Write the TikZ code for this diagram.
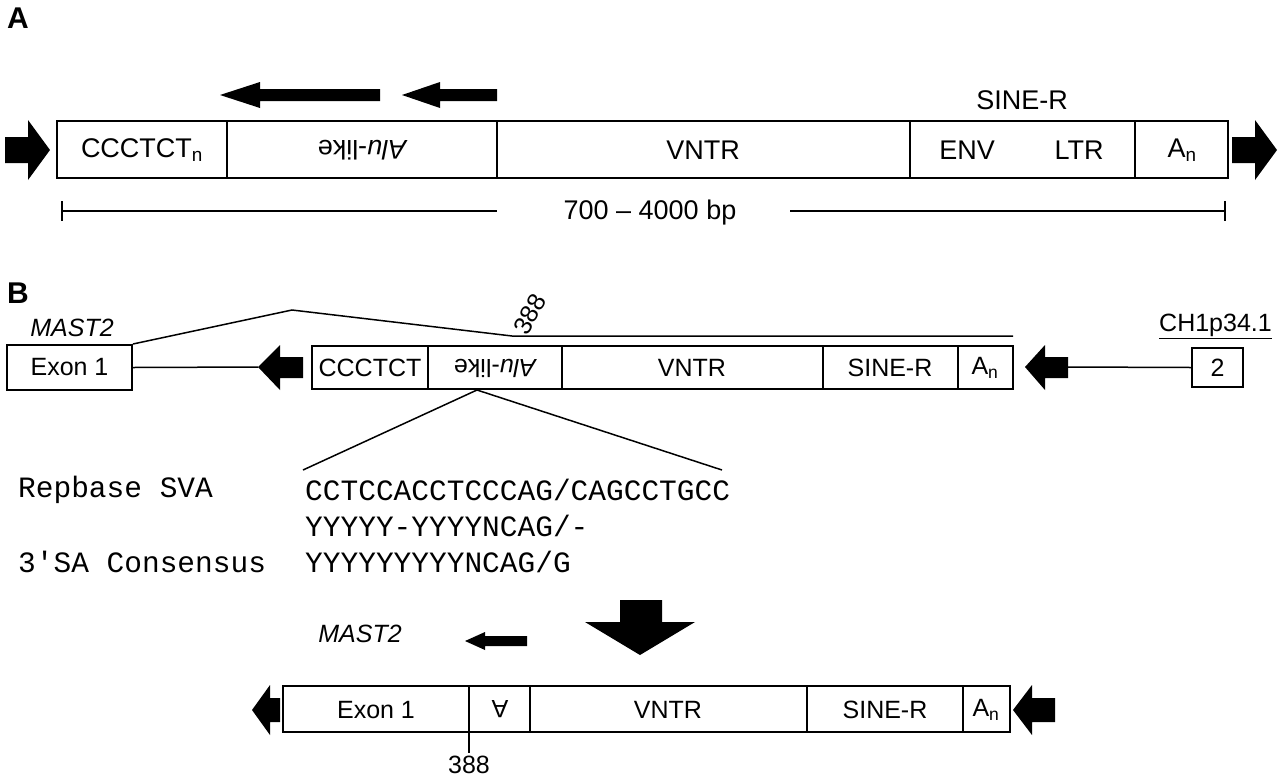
\documentclass[tikz,border=0pt]{standalone}
\usepackage{fontspec}
\setmainfont{Liberation Sans}
\newfontfamily\monof{Liberation Mono}
\begin{document}
\begin{tikzpicture}[x=1pt,y=-1pt,
  seg/.style={draw,line width=2pt,inner sep=0pt},
  lab/.style={font=\fontsize{27}{29}\selectfont},
  labb/.style={font=\fontsize{25}{27}\selectfont},
  mono/.style={font=\monof\fontsize{29.5}{31}\selectfont,anchor=west,inner sep=0pt},
  blk/.style={fill=black,draw=none}]
\useasboundingbox (0,0) rectangle (1280,777);
\node[font=\bfseries\fontsize{30}{32}\selectfont] (lA) at (18,18) {A};
\node[font=\bfseries\fontsize{30}{32}\selectfont] (lB) at (18,293) {B};
% ---- A
\draw[line width=2pt] (57,121) rectangle (1228,178);
\foreach \x in {227,497,910,1135} \draw[line width=1.5pt] (\x,121)--(\x,178);
\node[lab] (a1) at (142,150) {CCCTCT\textsubscript{n}};
\node[lab,rotate=180] (a2) at (362,150) {\textit{Alu}-like};
\node[lab] (a3) at (703,150) {VNTR};
\node[lab] (a4) at (967,150) {ENV};
\node[lab] (a5) at (1079,150) {LTR};
\node[lab] (a6) at (1182,150) {A\textsubscript{n}};
\node[lab] (a7) at (1022,100) {SINE-R};
\fill[blk] (5,137)--(28,137)--(28,120)--(50,150)--(28,180)--(28,163)--(5,163)--cycle;
\fill[blk] (1232,137)--(1255,137)--(1255,120)--(1277,150)--(1255,180)--(1255,163)--(1232,163)--cycle;
\fill[blk] (380,89)--(260,89)--(260,82)--(220,95)--(260,108)--(260,101)--(380,101)--cycle;
\fill[blk] (497,89)--(440,89)--(440,82)--(402,95)--(440,108)--(440,101)--(497,101)--cycle;
\node[lab] (sc) at (650,213) {700 -- 4000 bp};
\coordinate (s1) at (62,211); \coordinate (s2) at (1225,211);
\draw[line width=1.5pt] (s1)--(497,211) (790,211)--(s2);
\draw[line width=1.5pt] (62,201)--(62,221) (1225,201)--(1225,221);
% ---- B top
\node[seg,labb,minimum width=125pt,minimum height=45pt] (ex1) at (69.5,367.5) {Exon 1};
\node[font=\itshape\fontsize{25}{27}\selectfont] (m1) at (72,328) {MAST2};
\fill[blk] (303,357)--(280,357)--(280,345)--(258,367)--(280,390)--(280,378)--(303,378)--cycle;
\draw[line width=1.5pt] (ex1.east)--(258,367);
\draw[line width=2pt] (312,346) rectangle (1013,389);
\foreach \x in {428,562,823,958} \draw[line width=1.5pt] (\x,346)--(\x,389);
\node[labb] (b1) at (370,368) {CCCTCT};
\node[labb,rotate=180] (b2) at (495,368) {\textit{Alu}-like};
\node[labb] (b3) at (692,368) {VNTR};
\node[labb] (b4) at (890,368) {SINE-R};
\node[labb] (b5) at (985,368) {A\textsubscript{n}};
\fill[blk] (1068,357)--(1045,357)--(1045,345)--(1025,367)--(1045,390)--(1045,378)--(1068,378)--cycle;
\node[seg,labb,minimum width=51pt,minimum height=39pt] (ex2) at (1217.5,367.5) {2};
\draw[line width=1.5pt] (1068,367)--(ex2.west);
\node[labb,anchor=east,inner sep=0pt] (ch) at (1272,326) {\underline{CH1p34.1}};
\draw[line width=1.5pt] (133,344)--(292,310)--(512,336)--(1013,336);
\node[labb,rotate=60,inner sep=0pt] (n388) at (530,314) {388};
\coordinate (al) at (477,390);
\draw[line width=1.5pt] (303,470)--(al)--(722,470);
\node[mono] (t1) at (18,490) {Repbase SVA};
\node[mono] (t2) at (305,490) {CCTCCACCTCCCAG/CAGCCTGCC};
\node[mono] (t3) at (305,526) {YYYYY-YYYYNCAG/-};
\node[mono] (t4) at (18,562) {3'SA Consensus};
\node[mono] (t5) at (305,562) {YYYYYYYYYNCAG/G};
\fill[blk] (620,600)--(662,600)--(662,622)--(695,622)--(640,655)--(585,622)--(620,622)--cycle;
% ---- B bottom
\node[font=\itshape\fontsize{25}{27}\selectfont] (m2) at (360,634) {MAST2};
\fill[blk] (527,636)--(485,636)--(485,632)--(465,641)--(485,650)--(485,646)--(527,646)--cycle;
\draw[line width=2pt] (283,686) rectangle (1010,732);
\foreach \x in {469,530,807,963} \draw[line width=1.5pt] (\x,686)--(\x,732);
\node[labb] (c1) at (376,710) {Exon 1};
\node[labb,rotate=180] (c2) at (500,709) {A};
\node[labb] (c3) at (668,710) {VNTR};
\node[labb] (c4) at (885,710) {SINE-R};
\node[labb] (c5) at (986,710) {A\textsubscript{n}};
\fill[blk] (280,698)--(270,698)--(270,685)--(252,710)--(270,735)--(270,722)--(280,722)--cycle;
\fill[blk] (1055,698)--(1032,698)--(1032,685)--(1013,710)--(1032,735)--(1032,722)--(1055,722)--cycle;
\node[labb] (c388) at (469,765) {388};
\draw[line width=1.2pt] (469,732)--(c388.north);
\end{tikzpicture}
\end{document}
